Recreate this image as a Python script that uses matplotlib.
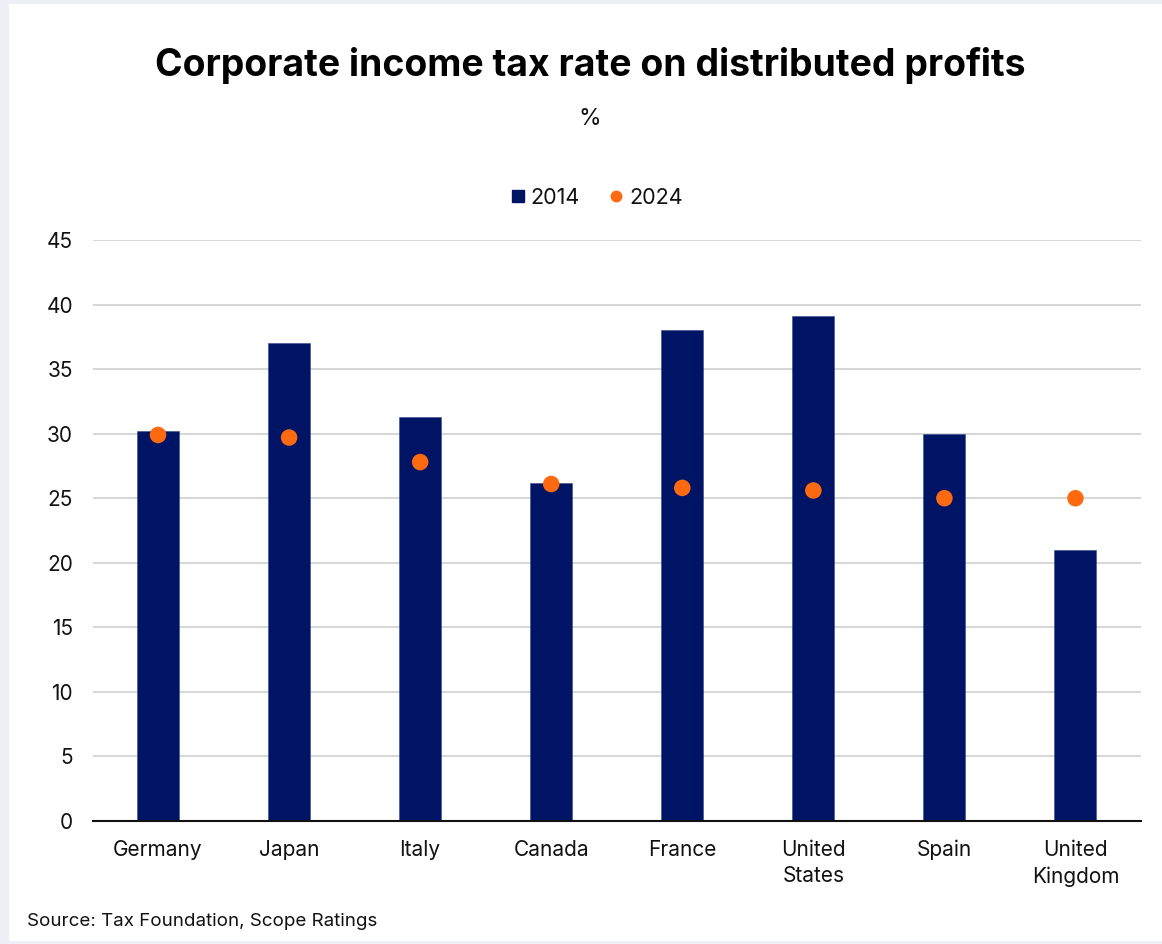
import matplotlib.pyplot as plt
from matplotlib.lines import Line2D
from matplotlib.patches import Rectangle
import numpy as np

plt.rcParams['font.family'] = ['Inter', 'DejaVu Sans']

countries = ["Germany", "Japan", "Italy", "Canada", "France",
             "United\nStates", "Spain", "United\nKingdom"]
rate_2014 = [30.2, 37.0, 31.3, 26.2, 38.0, 39.1, 30.0, 21.0]
rate_2024 = [29.9, 29.7, 27.8, 26.1, 25.8, 25.6, 25.0, 25.0]
y_ticks = [0, 5, 10, 15, 20, 25, 30, 35, 40, 45]

navy = "#001466"
orange = "#FF6A10"

fig = plt.figure(figsize=(11.62, 9.44), dpi=100)
fig.patch.set_facecolor("#eef0f5")
fig.patches.append(Rectangle((9 / 1162, 3 / 944), 1 - 9 / 1162, 1 - 7 / 944,
                             transform=fig.transFigure, facecolor="white",
                             edgecolor="none", zorder=-10))

ax = fig.add_axes([92.5 / 1162, 1 - 821 / 944, (1141 - 92.5) / 1162, (821 - 240) / 944])
ax.set_facecolor("none")

x = np.arange(len(countries))
ax.bar(x, rate_2014, width=0.32, color=navy, edgecolor="#3a4a8a", linewidth=0.4, zorder=2)
ax.scatter(x, rate_2024, s=16.5 ** 2 * 0.52, color=orange, edgecolors="none", zorder=3)

ax.set_xlim(-0.5, len(countries) - 0.5)
ax.set_ylim(0, 45)
ax.set_yticks(y_ticks)
ax.set_xticks(x)
ax.set_xticklabels(countries, linespacing=1.42)
ax.tick_params(axis="y", length=0, pad=14, labelsize=15, labelcolor="#111111")
ax.tick_params(axis="x", length=0, pad=13.5, labelsize=15, labelcolor="#111111")
ax.grid(axis="y", color="#d0d0d0", linewidth=1.2, zorder=1)
ax.set_axisbelow(True)
for side in ["left", "right", "top"]:
    ax.spines[side].set_visible(False)
ax.spines["bottom"].set_color("#111111")
ax.spines["bottom"].set_linewidth(1.5)
ax.spines["bottom"].set_zorder(4)

fig.text(590 / 1162, 1 - 66 / 944, "Corporate income tax rate on distributed profits",
         ha="center", va="center", fontsize=26.9, fontweight="bold", color="black")
fig.text(590 / 1162, 1 - 119 / 944, "%", ha="center", va="center",
         fontsize=16.5, color="#111111")
fig.text(27 / 1162, 1 - 921 / 944, "Source: Tax Foundation, Scope Ratings",
         ha="left", va="center", fontsize=13.5, color="#111111")

handles = [
    Line2D([], [], linestyle="none", marker="s", markersize=9, color=navy),
    Line2D([], [], linestyle="none", marker="o", markersize=7.5, color=orange),
]
fig.legend(handles, ["2014", "2024"], loc="center", ncol=2,
           bbox_to_anchor=(597 / 1162, 1 - 198 / 944), frameon=False,
           fontsize=15.5, handlelength=0.6, handletextpad=0.3,
           columnspacing=1.4, labelcolor="#111111")

fig.savefig("out.png", dpi=100, facecolor=fig.get_facecolor())
